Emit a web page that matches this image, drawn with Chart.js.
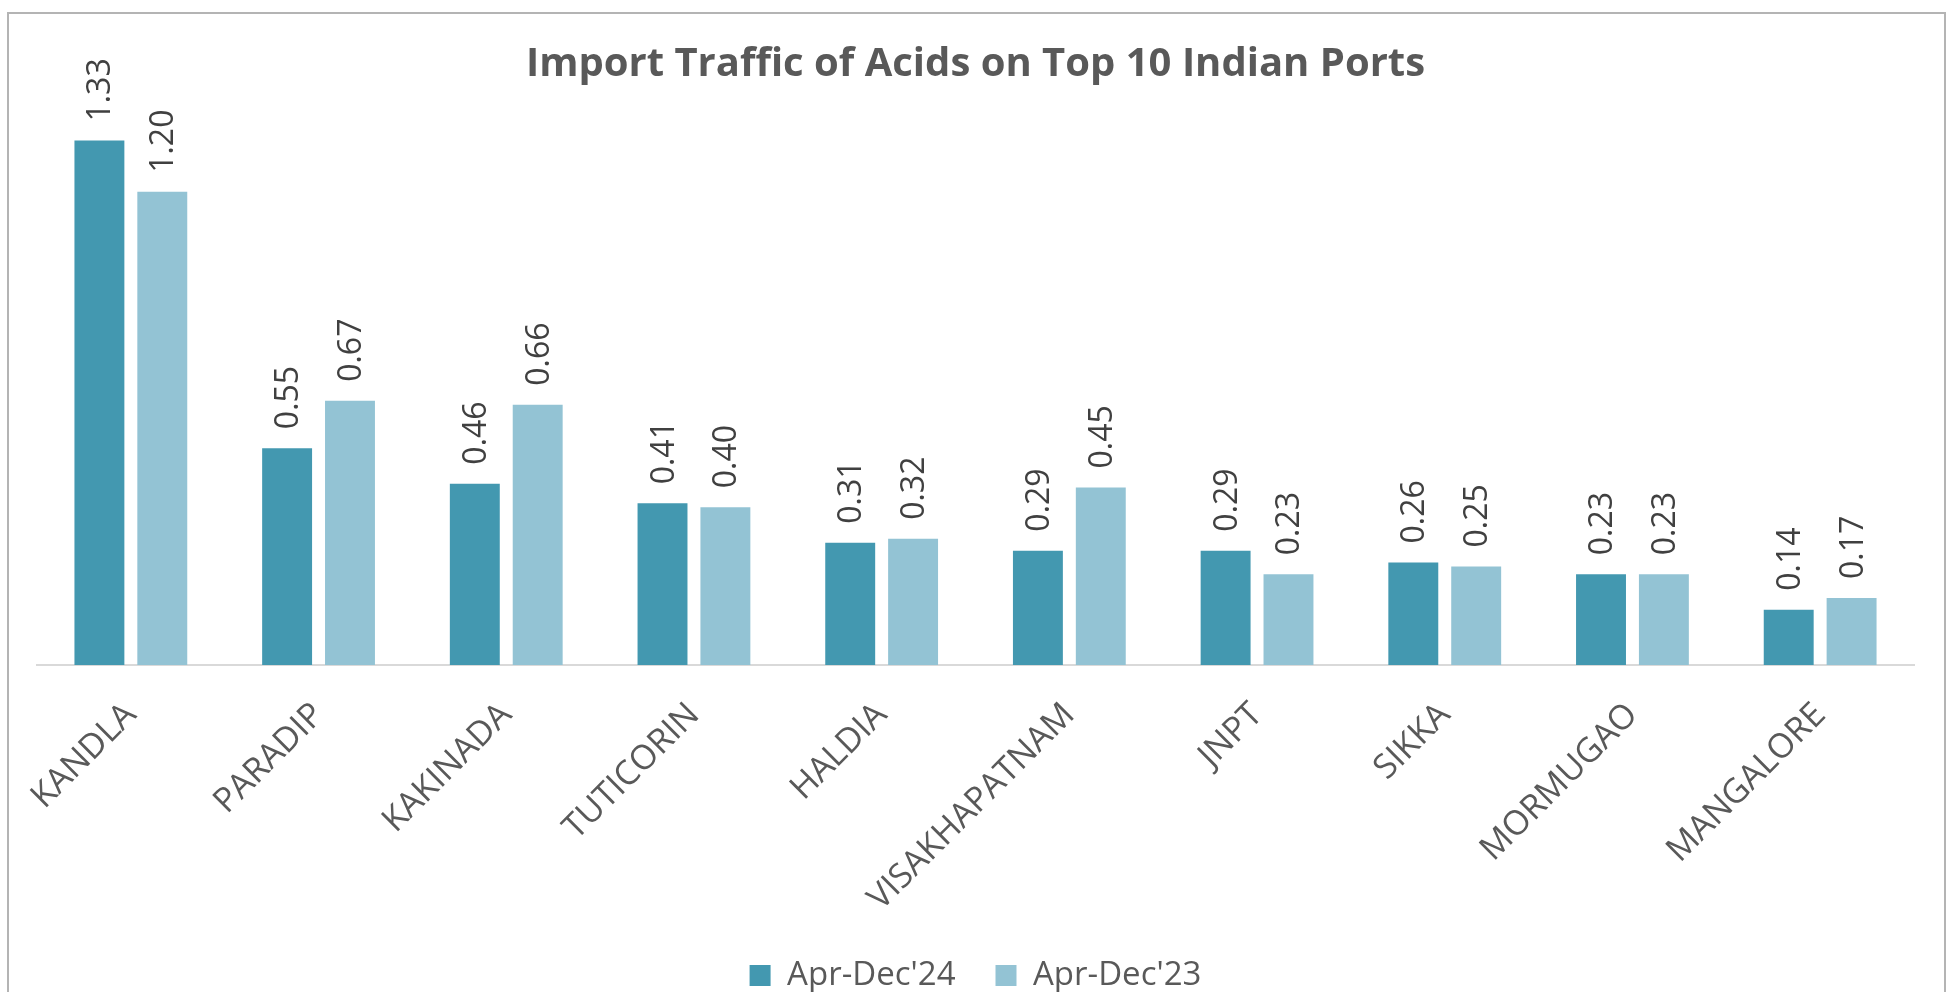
<!DOCTYPE html>
<html>
<head>
<meta charset="utf-8">
<script src="https://cdn.jsdelivr.net/npm/chart.js@4.4.1/dist/chart.umd.min.js"></script>
<style>
    html, body { margin: 0; padding: 0; background: #fff; overflow: hidden; }
    #moldura { position: absolute; left: 7px; top: 12px; width: 1935px; height: 1000px; border: 2px solid #b4b4b4; }
    #grafico-acidos { position: absolute; left: 0; top: 0; }
</style>
</head>
<body>
<div id="moldura"></div>
<canvas id="grafico-acidos" width="1954" height="992"></canvas>
<script>

const canvasAcidos = document.getElementById('grafico-acidos');

// data
var portos = ['KANDLA', 'PARADIP', 'KAKINADA', 'TUTICORIN', 'HALDIA', 'VISAKHAPATNAM', 'JNPT', 'SIKKA', 'MORMUGAO', 'MANGALORE'];
var dadosAbrDez24 = [1.33, 0.55, 0.46, 0.41, 0.31, 0.29, 0.29, 0.26, 0.23, 0.14];
var dadosAbrDez23 = [1.20, 0.67, 0.66, 0.40, 0.32, 0.45, 0.23, 0.25, 0.23, 0.17];
var nomesSeries = ["Apr-Dec'24", "Apr-Dec'23"];

const fonte = '"Open Sans", "Liberation Sans", sans-serif';

// draws the value above every bar, turned 90 degrees
const rotulosBarras = {
    id: 'rotulosBarras',
    afterDatasetsDraw(chart) {
        const ctx = chart.ctx;
        ctx.save();
        ctx.font = '32px ' + fonte;
        ctx.fillStyle = '#404040';
        ctx.textAlign = 'left';
        ctx.textBaseline = 'alphabetic';
        chart.data.datasets.forEach(function (ds, i) {
            chart.getDatasetMeta(i).data.forEach(function (barra, j) {
                ctx.save();
                ctx.translate(barra.x, barra.y - 19);
                ctx.rotate(-Math.PI / 2);
                ctx.fillText(ds.data[j].toFixed(2), 0, 11);
                ctx.restore();
            });
        });
        ctx.restore();
    }
};

const graficoAcidos = new Chart(canvasAcidos, {
    type: 'bar',
    data: {
        labels: portos,
        datasets: [{
            label: nomesSeries[0],
            data: dadosAbrDez24,
            backgroundColor: '#4398B0',
            borderColor: '#4398B0',
            borderWidth: 0,
            barPercentage: 0.794,
            categoryPercentage: 0.67
        }, {
            label: nomesSeries[1],
            data: dadosAbrDez23,
            backgroundColor: '#93C3D4',
            borderColor: '#93C3D4',
            borderWidth: 0,
            barPercentage: 0.794,
            categoryPercentage: 0.67
        }]
    },
    options: {
        responsive: false,
        animation: false,
        layout: {
            padding: { left: 37, right: 40, top: 13, bottom: -10 }
        },
        plugins: {
            title: {
                display: true,
                text: 'Import Traffic of Acids on Top 10 Indian Ports',
                color: '#595959',
                font: { family: fonte, size: 40, weight: 'bold' },
                padding: { top: 28, bottom: 24 }
            },
            legend: {
                position: 'bottom',
                labels: {
                    color: '#595959',
                    font: { family: fonte, size: 33 },
                    boxWidth: 21,
                    boxHeight: 21,
                    padding: 40
                }
            },
            tooltip: { enabled: false }
        },
        scales: {
            x: {
                grid: { display: false, drawTicks: false },
                border: { display: true, color: '#d9d9d9', width: 2 },
                ticks: {
                    color: '#595959',
                    font: { family: fonte, size: 34 },
                    minRotation: 45,
                    maxRotation: 45,
                    padding: 30
                },
                afterFit: function (eixo) {
                    eixo.height = 254;
                }
            },
            y: {
                display: false,
                min: 0,
                max: 1.4
            }
        }
    },
    plugins: [rotulosBarras]
});
</script>
</body>
</html>
